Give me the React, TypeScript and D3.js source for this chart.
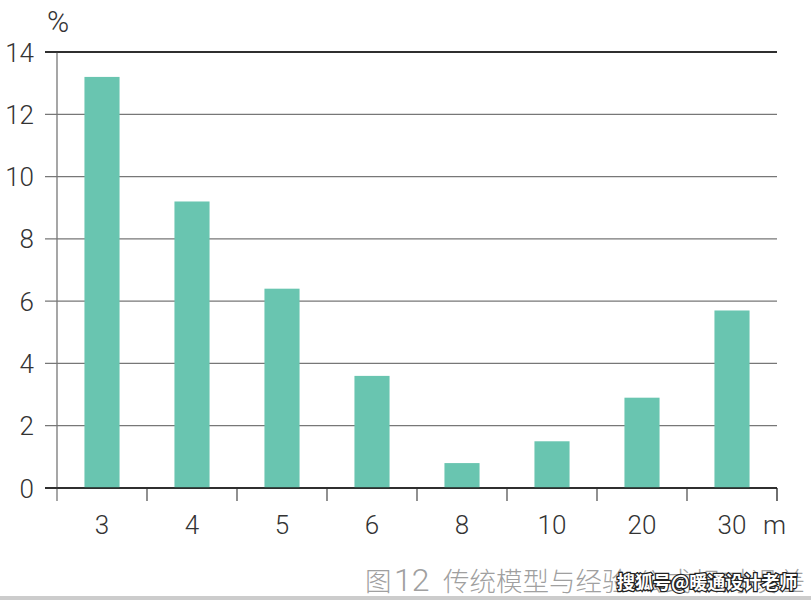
import React from "react";
import * as d3 from "d3";

const categories = ["3", "4", "5", "6", "8", "10", "20", "30"];
const values = [13.2, 9.2, 6.4, 3.6, 0.8, 1.5, 2.9, 5.7];
const yTicks = [0, 2, 4, 6, 8, 10, 12, 14];

export default function App() {
  const W = 811, H = 600;
  const x0 = 57, x1 = 777, yTop = 52, yBot = 488;
  const x = d3.scaleBand().domain(categories).range([x0, x1]).paddingInner(0.61).paddingOuter(0.305);
  const xb = d3.scaleBand().domain(categories).range([x0, x1]);
  const y = d3.scaleLinear().domain([0, 14]).range([yBot, yTop]);
  const font = "Roboto, 'Liberation Sans', Arial, sans-serif";
  const cjk = "'Noto Sans CJK SC', sans-serif";
  return (
    <svg width={W} height={H} style={{ position: "absolute", left: 0, top: 0 }}>
      <rect width={W} height={H} fill="#fff" />
      {yTicks.map((t) => (
        <g key={t}>
          <line x1={45} x2={x1} y1={y(t)} y2={y(t)} stroke={t === 0 || t === 14 ? "#222" : "#777"} strokeWidth={1.3} />
          <text x={34} y={y(t) + 9.5} textAnchor="end" fontSize={26} fontWeight={300} fill="#333" fontFamily={font}>{t}</text>
        </g>
      ))}
      <line x1={x0} x2={x0} y1={yTop} y2={yBot + 13} stroke="#777" strokeWidth={1.3} />
      {categories.map((c, i) => (
        <line key={"t" + c} x1={(xb(c) as number) + xb.bandwidth()} x2={(xb(c) as number) + xb.bandwidth()} y1={yBot} y2={yBot + 13} stroke={i === categories.length - 1 ? "#222" : "#555"} strokeWidth={1.3} />
      ))}
      {categories.map((c, i) => (
        <rect key={c} x={x(c)} y={y(values[i])} width={x.bandwidth()} height={yBot - y(values[i])} fill="#69c5b0" />
      ))}
      <line x1={45} x2={x1} y1={yBot} y2={yBot} stroke="#222" strokeWidth={1.3} />
      <line x1={45} x2={x1} y1={yTop} y2={yTop} stroke="#222" strokeWidth={1.3} />
      {categories.map((c) => (
        <text key={"l" + c} x={(xb(c) as number) + xb.bandwidth() / 2} y={534} textAnchor="middle" fontSize={26} fontWeight={300} fill="#333" fontFamily={font}>{c}</text>
      ))}
      <text x={763} y={534} fontSize={26} fontWeight={300} fill="#333" fontFamily={font}>m</text>
      <text x={47} y={32} fontSize={30} fontWeight={300} fill="#333" fontFamily={font}>%</text>
      <text y={591} fontSize={26.5} fontWeight={300} fill="#a0a0a0" fontFamily={cjk}>
        <tspan x={365}>图</tspan>
        <tspan x={394} fontFamily={font} fontSize={32}>12</tspan>
        <tspan x={443}>传统模型与经验</tspan>
        <tspan x={636} letterSpacing={2}>公式相对误差</tspan>
      </text>
      <text x={617} y={589} fontSize={18} fontWeight="bold" fill="#fff" stroke="#222" strokeWidth={2.5} paintOrder="stroke" fontFamily={cjk}>搜狐号@暖通设计老师</text>
      <rect x={0} y={596} width={W} height={4} fill="#ccc" />
    </svg>
  );
}
